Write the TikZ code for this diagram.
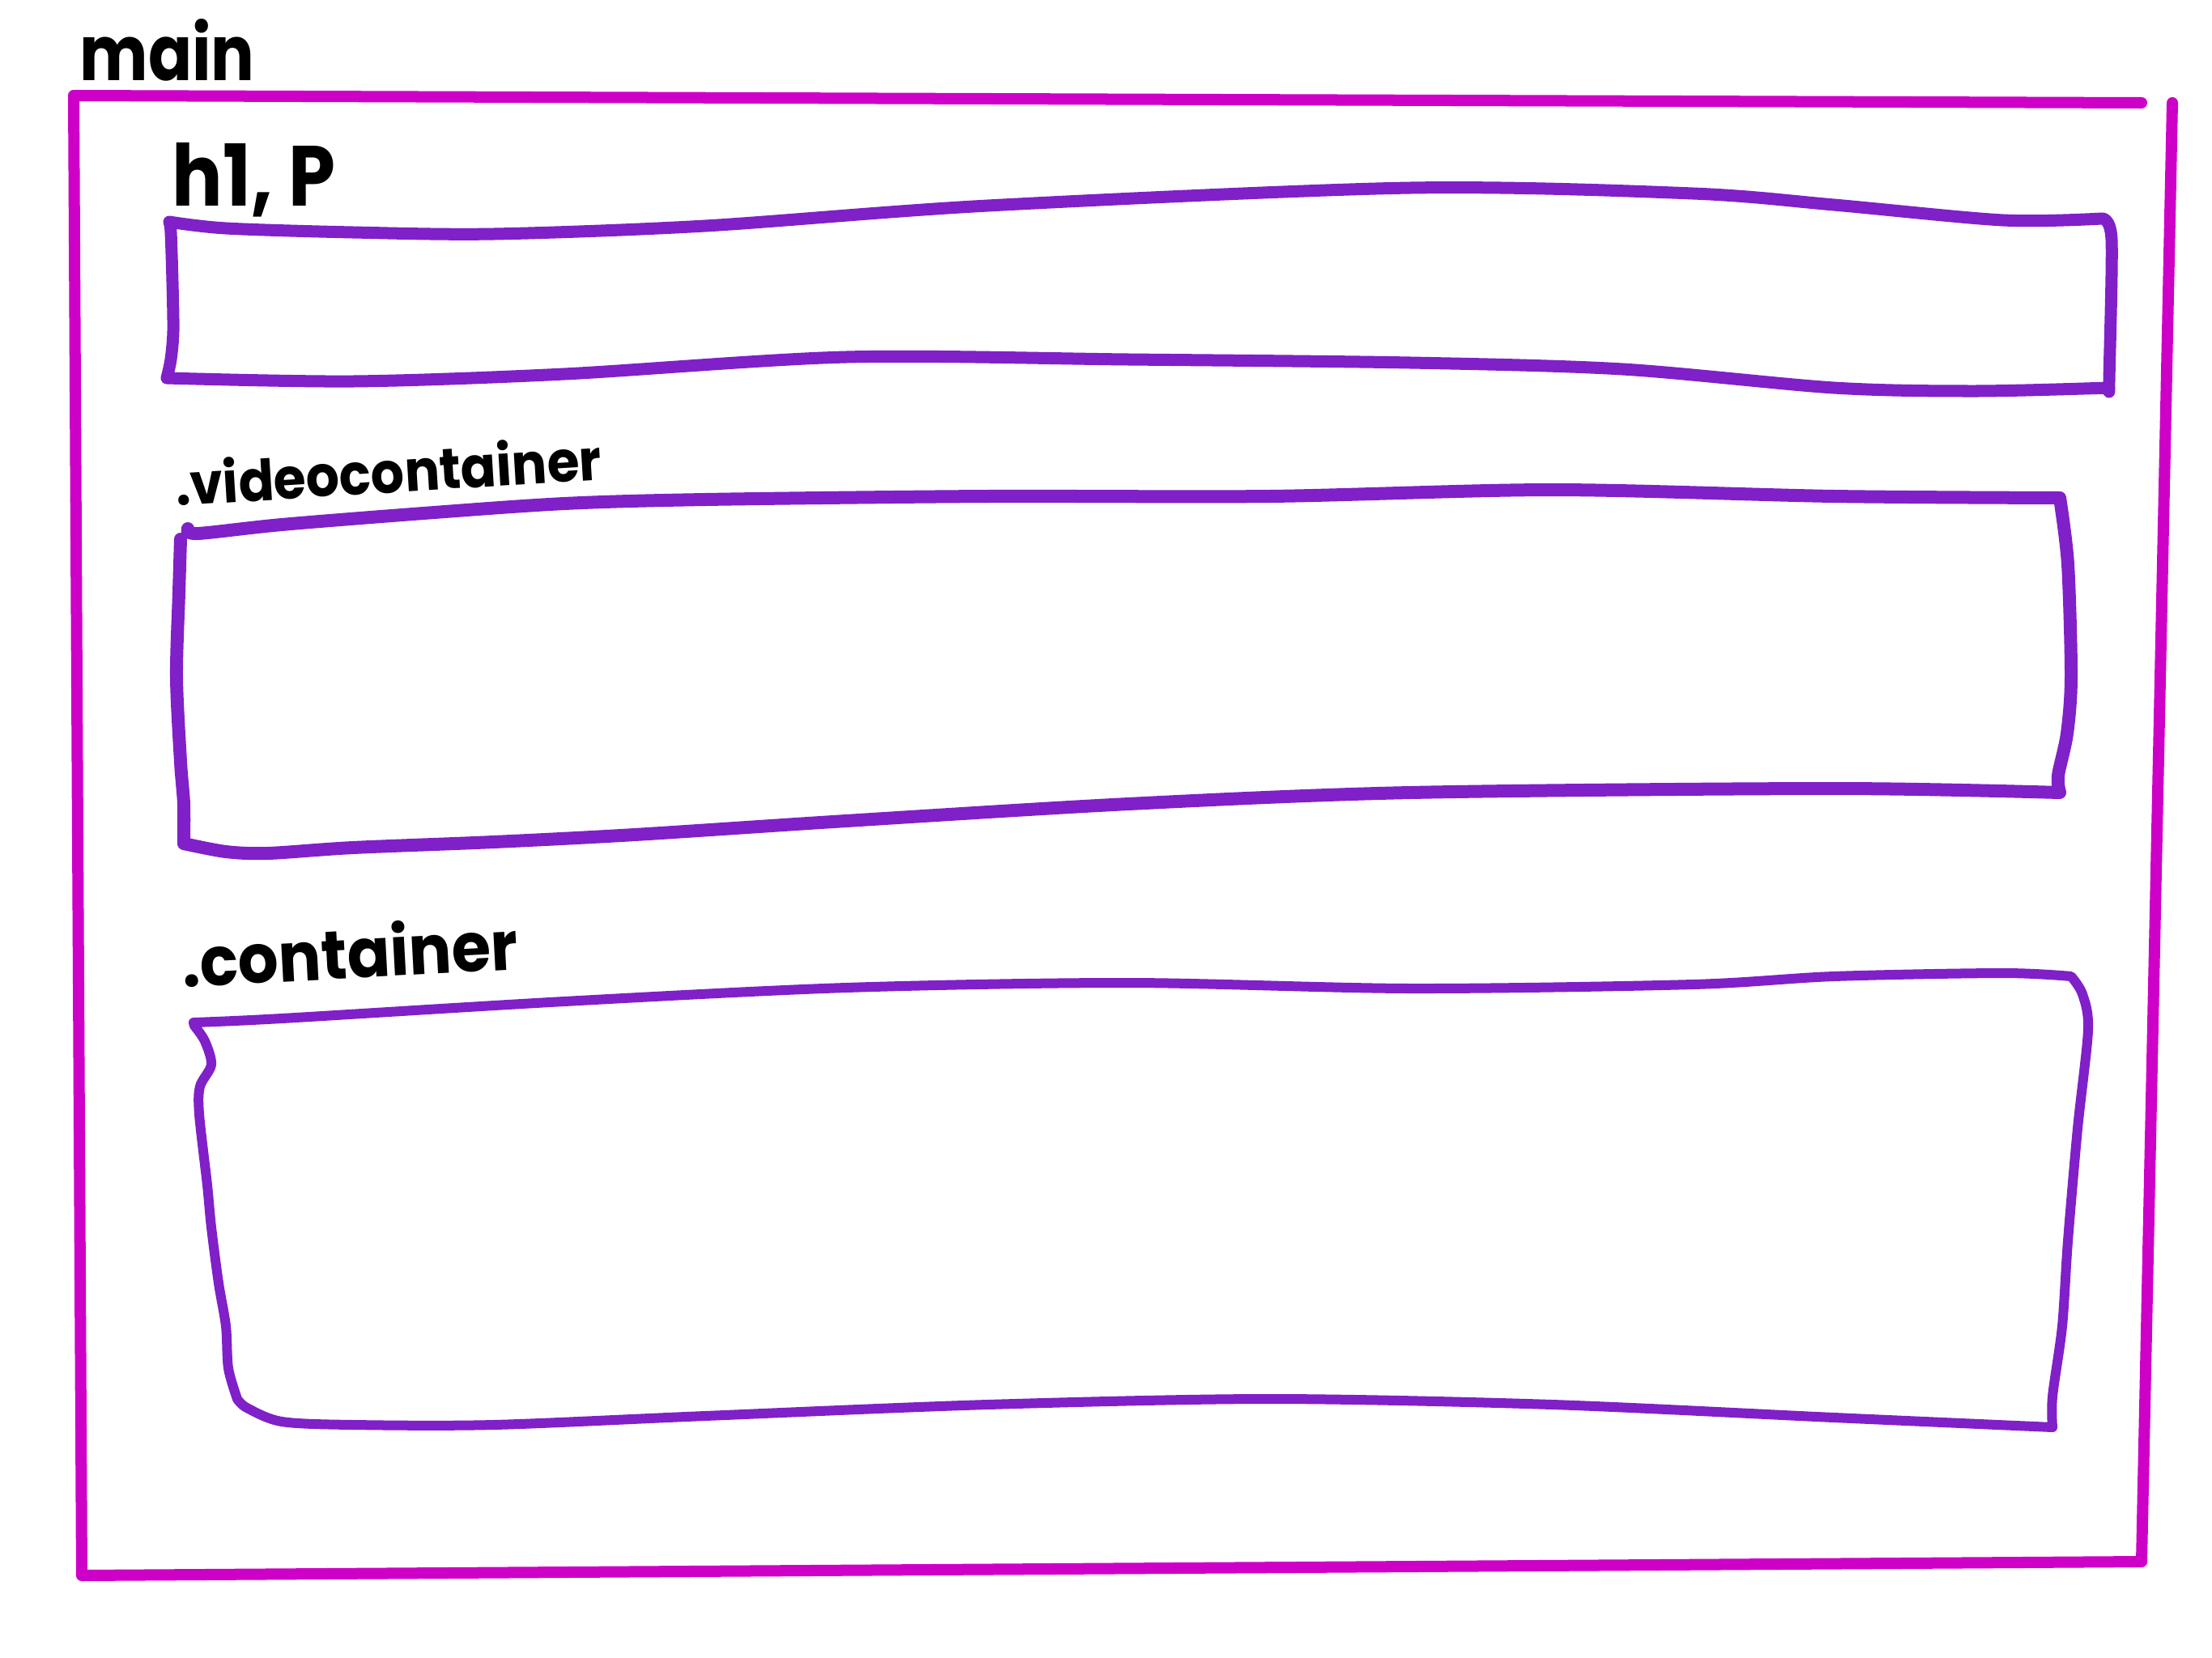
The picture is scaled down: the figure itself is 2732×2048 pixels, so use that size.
\documentclass[tikz,border=0pt]{standalone}
\usepackage{fontspec}
\setmainfont{Poppins}
\definecolor{mag}{RGB}{206,0,200}
\definecolor{purp}{RGB}{128,32,200}
\begin{document}
\begin{tikzpicture}[x=0.01cm,y=-0.01cm,
  mainline/.style={draw=mag, line width=0.14cm, line cap=round, line join=round},
  boxline/.style={draw=purp, line width=#1, line cap=round, line join=round},
  hand/.style={inner sep=0pt, anchor=west, text=black, transform shape}]
\useasboundingbox (0,0) rectangle (2732,2048);
% main frame
\coordinate (mtr) at (2645,127);
\coordinate (mtl) at (91,118);
\coordinate (mbl) at (101,1946);
\coordinate (mbr) at (2645,1929);
\coordinate (mrt) at (2683,127);
\draw[mainline] (mtr) -- (mtl) -- (mbl) -- (mbr) -- (mrt);
\node[hand, xscale=0.84, font=\bfseries\fontsize{27}{27}\selectfont] (lmain) at (98,62) {main};
% box 1
\draw[boxline=0.15cm]
 plot[smooth, tension=0.5] coordinates {(209,274) (279,282) (436,287) (610,289) (871,279) (1220,254) (1742,232) (2091,239) (2265,253) (2474,272) (2596,270)}
 -- plot[smooth, tension=0.5] coordinates {(2596,270) (2608,296) (2605,470) (2605,479)}
 -- plot[smooth, tension=0.5] coordinates {(2605,479) (2439,483) (2265,479) (2004,456) (1742,448) (1394,444) (1045,441) (697,462) (436,471) (206,467)}
 -- plot[smooth, tension=0.5] coordinates {(206,467) (211,444) (214,409) (213,348) (211,287) (209,274)} -- cycle;
\node[hand, xscale=0.88, font=\bfseries\fontsize{30}{30}\selectfont] (lh1) at (212,222) {h1, P};
% box 2
\draw[boxline=0.16cm]
 plot[smooth, tension=0.5] coordinates {(232,653) (244,659) (348,648) (523,634) (697,622) (871,617) (1220,613) (1568,613) (1917,605) (2265,613) (2544,615)}
 -- plot[smooth, tension=0.5] coordinates {(2544,615) (2554,697) (2558,836) (2553,906) (2542,958) (2544,979)}
 -- plot[smooth, tension=0.5] coordinates {(2544,979) (2265,974) (1742,979) (1394,993) (1045,1014) (784,1031) (610,1040) (436,1047) (331,1054) (279,1052) (227,1042)}
 -- plot[smooth, tension=0.5] coordinates {(227,1042) (227,993) (223,941) (218,836) (221,732) (223,666)};
\node[hand, rotate=3.5, xscale=0.92, font=\bfseries\fontsize{20}{20}\selectfont] (lvideo) at (216,597) {.videocontainer};
% box 3
\draw[boxline=0.12cm]
 plot[smooth, tension=0.5] coordinates {(239,1263) (348,1258) (697,1237) (1045,1220) (1394,1214) (1742,1221) (2091,1216) (2265,1206) (2474,1202) (2558,1206)}
 -- plot[smooth, tension=0.5] coordinates {(2558,1206) (2572,1228) (2579,1272) (2566,1394) (2554,1533) (2547,1638) (2535,1725) (2535,1763)}
 -- plot[smooth, tension=0.5] coordinates {(2535,1763) (2265,1751) (1917,1735) (1568,1728) (1220,1735) (871,1749) (610,1760) (436,1760) (348,1756) (305,1739) (293,1728)}
 -- plot[smooth, tension=0.5] coordinates {(293,1728) (282,1690) (279,1638) (270,1585) (261,1516) (256,1464) (246,1376) (247,1342) (261,1315) (253,1286) (240,1267)} -- cycle;
\node[hand, rotate=3, xscale=0.93, font=\bfseries\fontsize{24}{24}\selectfont] (lcont) at (224,1186) {.container};
\end{tikzpicture}
\end{document}
